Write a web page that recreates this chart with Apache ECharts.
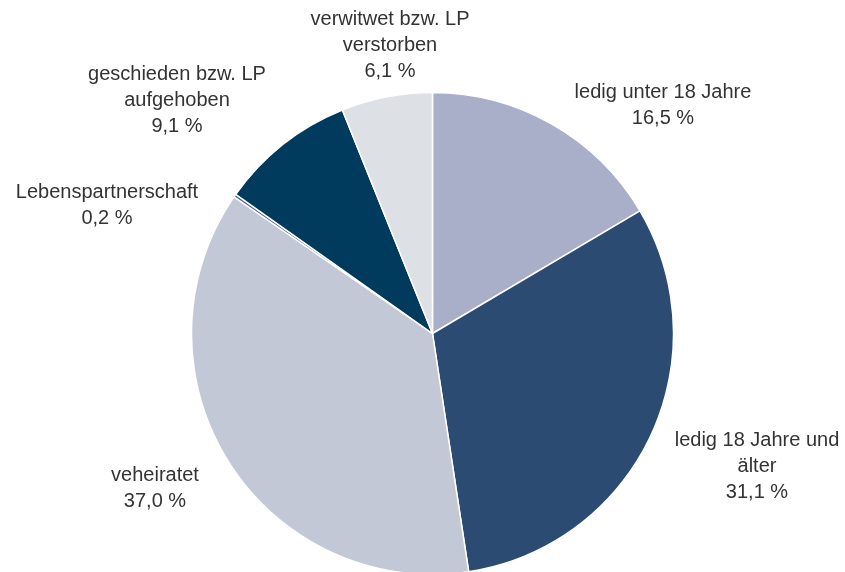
<!DOCTYPE html>
<html>
<head>
<meta charset="utf-8">
<script src="https://cdn.jsdelivr.net/npm/echarts@6/dist/echarts.min.js"></script>
<style>
  html, body { margin: 0; padding: 0; background: #ffffff; }
  #chart { width: 845px; height: 572px; }
</style>
</head>
<body>
<div id="chart"></div>
<script>
// Familienstand – Anteile in Prozent
const categories = [
  'ledig unter 18 Jahre',
  'ledig 18 Jahre und\nälter',
  'veheiratet',
  'Lebenspartnerschaft',
  'geschieden bzw. LP\naufgehoben',
  'verwitwet bzw. LP\nverstorben'
];
const values = [16.5, 31.1, 37.0, 0.2, 9.1, 6.1];
const colors = ['#a9aec9', '#2b4b72', '#c3c8d7', '#4d6a9a', '#003a5c', '#dde1e6'];

// label anchor points (center of each text block)
const labelAnchors = [
  [663, 105],
  [757, 466],
  [155, 488],
  [107, 205],
  [177, 100],
  [390, 45]
];

const fmt = v => v.toFixed(1).replace('.', ',') + ' %';

const chart = echarts.init(document.getElementById('chart'), null, { renderer: 'canvas' });
chart.setOption({
  animation: false,
  series: [{
    type: 'pie',
    center: [432.5, 333.5],
    radius: [0, 241],
    startAngle: 90,
    clockwise: true,
    avoidLabelOverlap: false,
    itemStyle: { borderColor: '#ffffff', borderWidth: 1.5 },
    label: {
      show: true,
      position: 'outside',
      formatter: p => p.name + '\n' + fmt(p.value),
      fontFamily: 'Liberation Sans, Arial, sans-serif',
      fontSize: 20,
      lineHeight: 26,
      color: '#333333',
      align: 'center'
    },
    labelLine: { show: false },
    labelLayout: p => ({
      x: labelAnchors[p.dataIndex][0],
      y: labelAnchors[p.dataIndex][1],
      align: 'center',
      verticalAlign: 'middle'
    }),
    emphasis: { disabled: true },
    data: categories.map((c, i) => ({
      name: c,
      value: values[i],
      itemStyle: { color: colors[i] }
    }))
  }]
});
</script>
</body>
</html>
